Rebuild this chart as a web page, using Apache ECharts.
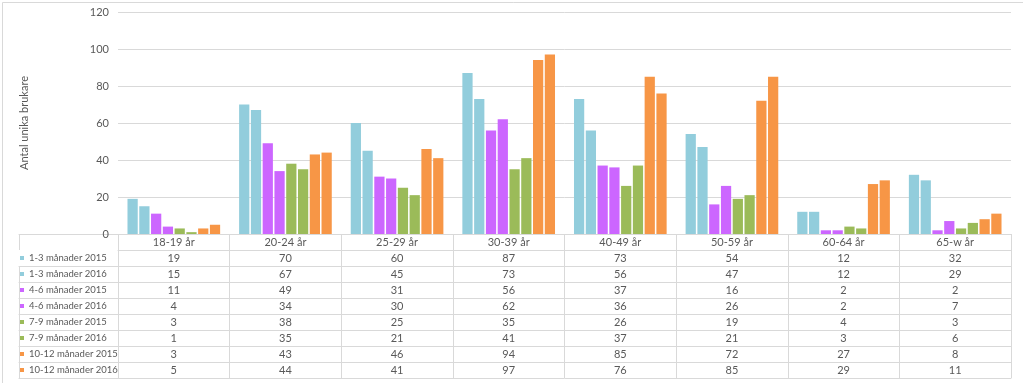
<!DOCTYPE html>
<html>
<head>
<meta charset="utf-8">
<script src="https://cdn.jsdelivr.net/npm/echarts@6/dist/echarts.min.js"></script>
<style>
html,body{margin:0;padding:0;background:#fff;}
#c{width:1023px;height:383px;}
</style>
</head>
<body>
<div id="c"></div>
<script>
// ---- data ----
var categories = ['18-19 år','20-24 år','25-29 år','30-39 år','40-49 år','50-59 år','60-64 år','65-w år'];
var seriesNames = ['1-3 månader 2015','1-3 månader 2016','4-6 månader 2015','4-6 månader 2016','7-9 månader 2015','7-9 månader 2016','10-12 månader 2015','10-12 månader 2016'];
var m13_2015 = [19,70,60,87,73,54,12,32];
var m13_2016 = [15,67,45,73,56,47,12,29];
var m46_2015 = [11,49,31,56,37,16,2,2];
var m46_2016 = [4,34,30,62,36,26,2,7];
var m79_2015 = [3,38,25,35,26,19,4,3];
var m79_2016 = [1,35,21,41,37,21,3,6];
var m1012_2015 = [3,43,46,94,85,72,27,8];
var m1012_2016 = [5,44,41,97,76,85,29,11];
var yTicks = [0,20,40,60,80,100,120];
var yTitle = 'Antal unika brukare';

var values = [m13_2015,m13_2016,m46_2015,m46_2016,m79_2015,m79_2016,m1012_2015,m1012_2016];
var colors = ['#92CDDC','#92CDDC','#CC66FF','#CC66FF','#9BBB59','#9BBB59','#F79646','#F79646'];

var FONT = 'Lato';
var TXT = '#595959';
var LINE = '#D9D9D9';
var ROW = 16;

var xAxes = [];
// main grid: header + 8 value rows
for (var r = 0; r <= values.length; r++) {
  (function(r){
    xAxes.push({
      type:'category', gridIndex:0, position:'bottom', offset: r*ROW,
      data: categories,
      axisLine:{show:true, lineStyle:{color:LINE, width:1}},
      axisTick:{show:true, length:ROW, lineStyle:{color:LINE}},
      axisLabel:{show:true, interval:0, margin:3, color:TXT, fontFamily:FONT, fontSize:11,
        formatter: r === 0 ? function(v){return v;} : function(v, i){ return String(values[r-1][i]); }},
      splitLine:{show:false}
    });
  })(r);
}
// bottom line of main grid table
xAxes.push({
  type:'category', gridIndex:0, position:'bottom', offset:(values.length+1)*ROW,
  data: categories,
  axisLine:{show:true, lineStyle:{color:LINE}},
  axisTick:{show:false}, axisLabel:{show:false}, splitLine:{show:false}
});
// left column cells
for (var k = 1; k <= values.length+1; k++) {
  xAxes.push({
    type:'category', gridIndex:1, position:'bottom', offset:k*ROW,
    data:[''],
    axisLine:{show:true, lineStyle:{color:LINE}},
    axisTick:{show: k <= values.length, length:ROW, lineStyle:{color:LINE}},
    axisLabel:{show:false}, splitLine:{show:false}
  });
}

var series = values.map(function(v, i){
  return {
    name: seriesNames[i], type:'bar', xAxisIndex:0, yAxisIndex:0,
    data: v, barGap:'15%', barCategoryGap:'17%',
    itemStyle:{color: colors[i]}
  };
});

var option = {
  backgroundColor:'#fff',
  animation:false,
  grid:[
    {left:118, right:12, top:12, bottom:149},
    {left:19, width:99, top:12, bottom:149}
  ],
  legend:{
    orient:'vertical', left:20, top:250, padding:0, itemGap:0,
    itemWidth:4, itemHeight:4, icon:'rect',
    selectedMode:false,
    textStyle:{color:TXT, fontFamily:FONT, fontSize:9.5, lineHeight:16, height:16},
    data: seriesNames
  },
  xAxis: xAxes,
  yAxis:[
    {type:'value', gridIndex:0, min:yTicks[0], max:yTicks[yTicks.length-1], interval:yTicks[1]-yTicks[0],
     name:yTitle, nameLocation:'middle', nameGap:88,
     nameTextStyle:{color:TXT, fontFamily:FONT, fontSize:11},
     axisLine:{show:false}, axisTick:{show:false},
     axisLabel:{color:TXT, fontFamily:FONT, fontSize:11, margin:9},
     splitLine:{lineStyle:{color:LINE, width:1}}},
    {type:'value', gridIndex:1, show:false}
  ],
  graphic:[{type:'rect', left:0, top:0, shape:{width:1022, height:381}, style:{fill:'none', stroke:'#D9D9D9', lineWidth:1}, silent:true}],
  series: series
};
var chart = echarts.init(document.getElementById('c'), null, {renderer:'canvas'});
chart.setOption(option);
</script>
</body>
</html>
